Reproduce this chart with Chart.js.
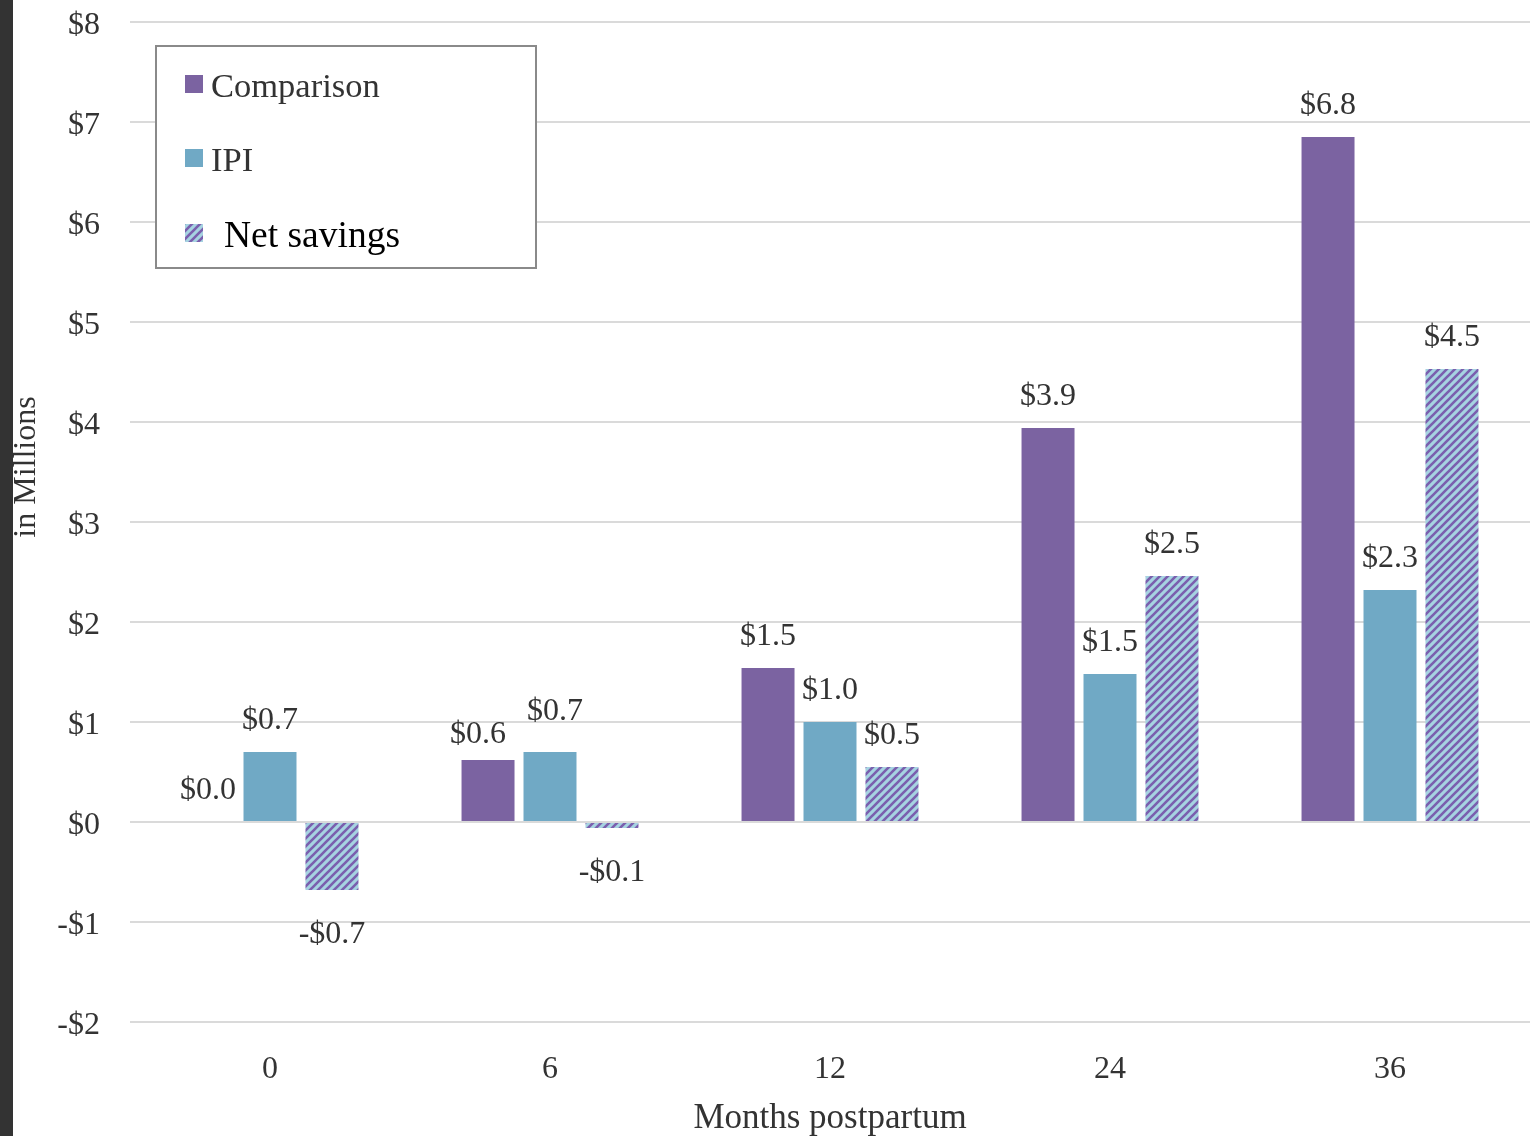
<!DOCTYPE html>
<html>
<head>
<meta charset="utf-8">
<script src="https://cdn.jsdelivr.net/npm/chart.js@4"></script>
<style>
  html, body { margin: 0; padding: 0; background: #ffffff; }
  #wrap { position: relative; width: 1530px; height: 1136px; }
</style>
</head>
<body>
<div id="wrap"><canvas id="c" width="1530" height="1136"></canvas></div>
<script>
// ---- data ----
const categories = ['0', '6', '12', '24', '36'];
const comparisonValues = [0.0, 0.62, 1.54, 3.94, 6.85];
const ipiValues = [0.70, 0.70, 1.00, 1.48, 2.32];
const netSavingsValues = [-0.68, -0.06, 0.55, 2.46, 4.53];
const comparisonLabels = ['$0.0', '$0.6', '$1.5', '$3.9', '$6.8'];
const ipiLabels = ['$0.7', '$0.7', '$1.0', '$1.5', '$2.3'];
const netSavingsLabels = ['-$0.7', '-$0.1', '$0.5', '$2.5', '$4.5'];
const yTickValues = [-2, -1, 0, 1, 2, 3, 4, 5, 6, 7, 8];
const yTickLabels = ['-$2', '-$1', '$0', '$1', '$2', '$3', '$4', '$5', '$6', '$7', '$8'];
const seriesNames = ['Comparison', 'IPI', 'Net savings'];

// ---- styles ----
const PURPLE = '#7b63a1';
const BLUE = '#70a9c5';
const TEXT = '#333333';
const SERIF = '"Liberation Serif", "DejaVu Serif", serif';

function makeHatch() {
  const s = 8;
  const p = document.createElement('canvas');
  p.width = s; p.height = s;
  const g = p.getContext('2d');
  g.fillStyle = '#a6d3e1';
  g.fillRect(0, 0, s, s);
  g.strokeStyle = '#7a5fae';
  g.lineWidth = 2.6;
  g.lineCap = 'square';
  g.beginPath();
  g.moveTo(0, s); g.lineTo(s, 0);
  g.moveTo(-s / 2, s / 2); g.lineTo(s / 2, -s / 2);
  g.moveTo(s / 2, s * 1.5); g.lineTo(s * 1.5, s / 2);
  g.stroke();
  return document.getElementById('c').getContext('2d').createPattern(p, 'repeat');
}
const hatch = makeHatch();

const barLabels = [comparisonLabels, ipiLabels, netSavingsLabels];

const decorPlugin = {
  id: 'decor',
  beforeDraw(chart) {
    const ctx = chart.ctx;
    ctx.save();
    ctx.fillStyle = '#ffffff';
    ctx.fillRect(0, 0, chart.width, chart.height);
    ctx.restore();
  },
  afterDraw(chart) {
    const ctx = chart.ctx;
    ctx.save();
    // dark strip on the left edge
    ctx.fillStyle = '#333333';
    ctx.fillRect(0, 0, 13, chart.height);

    // y axis title
    ctx.save();
    ctx.translate(27, 467);
    ctx.rotate(-Math.PI / 2);
    ctx.font = '32px ' + SERIF;
    ctx.fillStyle = TEXT;
    ctx.textAlign = 'center';
    ctx.textBaseline = 'middle';
    ctx.fillText('in Millions', 0, 0);
    ctx.restore();

    // value labels
    ctx.font = '32px ' + SERIF;
    ctx.fillStyle = TEXT;
    ctx.textAlign = 'center';
    ctx.textBaseline = 'middle';
    const nCat = chart.data.labels.length;
    for (let i = 0; i < nCat; i++) {
      const boxes = [];
      chart.data.datasets.forEach((ds, di) => {
        const bar = chart.getDatasetMeta(di).data[i];
        const v = ds.data[i];
        const txt = barLabels[di][i];
        const w = ctx.measureText(txt).width;
        boxes.push({ txt, x: bar.x, y: v >= 0 ? bar.y - 31 : bar.y + 45, w });
      });
      // simple collision avoidance between neighbouring labels
      for (let k = 1; k < boxes.length; k++) {
        const a = boxes[k - 1], b = boxes[k];
        const gap = (b.x - b.w / 2) - (a.x + a.w / 2);
        if (gap < 8 && Math.abs(a.y - b.y) < 25) {
          a.x -= 10; a.y += 6;
          b.x += 5; b.y -= 9;
        }
      }
      boxes.forEach(b => ctx.fillText(b.txt, b.x, b.y));
    }

    // legend box
    ctx.fillStyle = '#ffffff';
    ctx.fillRect(156, 46, 380, 222);
    ctx.strokeStyle = '#8a8a8a';
    ctx.lineWidth = 2;
    ctx.strokeRect(156, 46, 380, 222);
    const items = [
      { fill: PURPLE, y: 84, text: seriesNames[0], tx: 211, font: '34.5px ' + SERIF, color: TEXT },
      { fill: BLUE, y: 158, text: seriesNames[1], tx: 211, font: '34.5px ' + SERIF, color: TEXT },
      { fill: hatch, y: 233, text: seriesNames[2], tx: 224, font: '37.5px ' + SERIF, color: '#000000' }
    ];
    items.forEach(it => {
      ctx.fillStyle = it.fill;
      ctx.fillRect(185, it.y - 9, 18, 18);
      ctx.fillStyle = it.color;
      ctx.font = it.font;
      ctx.textAlign = 'left';
      ctx.textBaseline = 'middle';
      ctx.fillText(it.text, it.tx, it.y + 4);
    });
    ctx.restore();
  }
};

new Chart(document.getElementById('c'), {
  type: 'bar',
  data: {
    labels: categories,
    datasets: [
      { label: seriesNames[0], data: comparisonValues, backgroundColor: PURPLE },
      { label: seriesNames[1], data: ipiValues, backgroundColor: BLUE },
      { label: seriesNames[2], data: netSavingsValues, backgroundColor: hatch }
    ]
  },
  options: {
    responsive: false,
    animation: false,
    devicePixelRatio: 1,
    categoryPercentage: 0.664,
    barPercentage: 0.855,
    layout: { padding: { top: 22, right: 0, bottom: 0, left: 0 } },
    plugins: { legend: { display: false }, tooltip: { enabled: false } },
    scales: {
      x: {
        grid: { display: false, drawTicks: false },
        border: { display: false },
        ticks: { color: TEXT, font: { family: SERIF, size: 32 }, padding: 28, maxRotation: 0 },
        title: { display: true, text: 'Months postpartum', color: TEXT, font: { family: SERIF, size: 35 }, padding: { top: 0, bottom: -4 } },
        afterFit(s) { s.height = 114; s.paddingLeft = 0; s.paddingRight = 0; }
      },
      y: {
        min: -2, max: 8,
        afterBuildTicks(s) { s.ticks = yTickValues.map(v => ({ value: v })); },
        grid: { color: '#dadada', lineWidth: 2, drawTicks: false },
        border: { display: false },
        ticks: {
          color: TEXT, font: { family: SERIF, size: 32 }, padding: 30, labelOffset: 4,
          callback(v) { const k = yTickValues.indexOf(v); return k >= 0 ? yTickLabels[k] : ''; }
        },
        afterFit(s) { s.width = 130; s.paddingTop = 0; s.paddingBottom = 0; }
      }
    }
  },
  plugins: [decorPlugin]
});
</script>
</body>
</html>
